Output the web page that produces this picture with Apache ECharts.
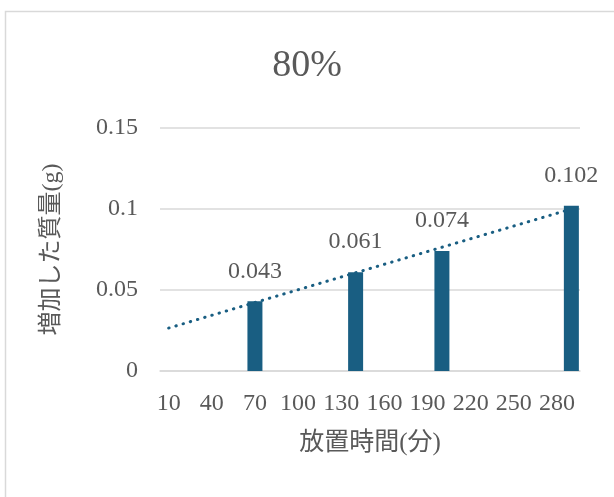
<!DOCTYPE html>
<html>
<head>
<meta charset="utf-8">
<script src="https://cdn.jsdelivr.net/npm/echarts@6/dist/echarts.min.js"></script>
<style>
  html, body { margin: 0; padding: 0; background: #fff; }
  #chart { width: 614px; height: 497px; }
</style>
</head>
<body>
<div id="chart"></div>
<script>
// 放置時間(分) と 増加した質量(g)
var times = [70, 140, 200, 290];
var masses = [0.043, 0.061, 0.074, 0.102];
// 近似直線 (線形) の両端、図から読み取り
var trendX = [10, 288];
var trendY = [0.0265, 0.0995];
var xTickLabels = [10, 40, 70, 100, 130, 160, 190, 220, 250, 280];

var FONT = '"Liberation Serif", "Noto Sans CJK JP", serif';
var TEXT = '#595959';
var GRID = '#d9d9d9';
var BAR = '#195e82';

var myChart = echarts.init(document.getElementById('chart'));
var option = {
    animation: false,
    textStyle: { fontFamily: FONT, color: TEXT },
    title: {
        text: '80%',
        left: 'center',
        top: 42,
        textStyle: { fontFamily: FONT, fontSize: 38, fontWeight: 'normal', color: TEXT }
    },
    graphic: [{
        type: 'rect',
        shape: { x: 5.5, y: 11.5, width: 700, height: 600 },
        style: { fill: 'none', stroke: GRID, lineWidth: 1.5 },
        silent: true
    }],
    grid: { left: 160, right: 34, top: 128, bottom: 126 },
    xAxis: {
        type: 'value',
        min: 4,
        max: 296,
        name: '放置時間(分)',
        nameLocation: 'middle',
        nameGap: 60,
        nameTextStyle: { fontFamily: FONT, fontSize: 25, color: TEXT },
        axisLine: { show: true, lineStyle: { color: GRID, width: 1.5 } },
        axisTick: { show: false },
        splitLine: { show: false },
        axisLabel: {
            customValues: xTickLabels,
            margin: 21,
            fontSize: 24,
            color: TEXT,
            fontFamily: FONT
        }
    },
    yAxis: {
        type: 'value',
        min: 0,
        max: 0.15,
        interval: 0.05,
        name: '増加した質量(g)',
        nameLocation: 'middle',
        nameGap: 96,
        nameTextStyle: { fontFamily: FONT, fontSize: 24, color: TEXT },
        axisLine: { show: false },
        axisTick: { show: false },
        splitLine: { lineStyle: { color: GRID, width: 1.5 } },
        axisLabel: { margin: 22, fontSize: 24, color: TEXT, fontFamily: FONT }
    },
    series: [{
        type: 'bar',
        barWidth: 15,
        itemStyle: { color: BAR },
        label: {
            show: true,
            position: 'top',
            distance: 18,
            fontSize: 24,
            color: TEXT,
            fontFamily: FONT
        },
        data: times.map(function (t, i) { return [t, masses[i]]; }),
        z: 2
    }, {
        type: 'line',
        symbol: 'none',
        lineStyle: { color: BAR, width: 3, type: [0.5, 7], cap: 'round' },
        data: trendX.map(function (t, i) { return [t, trendY[i]]; }),
        z: 3
    }]
};
myChart.setOption(option);
</script>
</body>
</html>
